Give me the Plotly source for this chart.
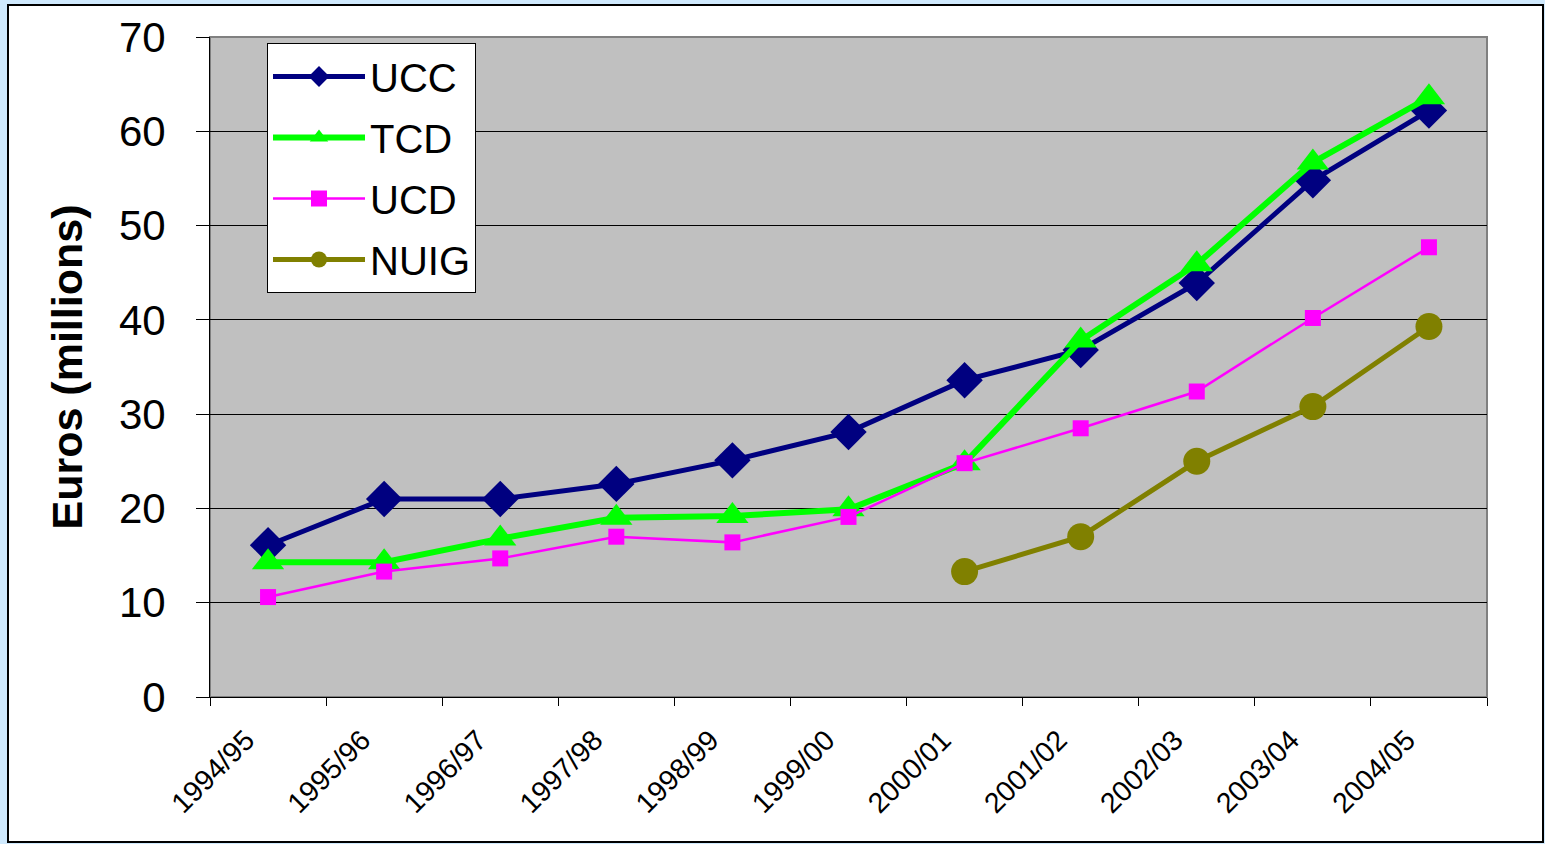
import plotly.graph_objects as go

years = ["1994/95", "1995/96", "1996/97", "1997/98", "1998/99", "1999/00",
         "2000/01", "2001/02", "2002/03", "2003/04", "2004/05"]
ucc = [16.1, 21.0, 21.0, 22.6, 25.1, 28.1, 33.6, 36.8, 43.9, 54.8, 62.2]
tcd = [14.3, 14.3, 16.8, 19.0, 19.2, 19.9, 24.8, 37.8, 45.9, 56.7, 63.6]
ucd = [10.6, 13.3, 14.7, 17.0, 16.4, 19.1, 24.8, 28.5, 32.4, 40.2, 47.7]
nuig = [None, None, None, None, None, None, 13.3, 17.0, 25.0, 30.8, 39.3]

FONT = "Liberation Sans, Arial, sans-serif"

fig = go.Figure()
fig.add_trace(go.Scatter(x=years, y=ucc, name="UCC", mode="lines+markers",
                         legendgroup="a",
                         line=dict(color="#000080", width=5),
                         marker=dict(symbol="diamond", size=28, color="#000080")))
fig.add_trace(go.Scatter(x=years, y=tcd, name="TCD", mode="lines+markers",
                         legendgroup="b",
                         line=dict(color="#00ff00", width=6),
                         marker=dict(symbol="triangle-up", size=28, color="#00ff00")))
fig.add_trace(go.Scatter(x=years, y=ucd, name="UCD", mode="lines+markers",
                         legendgroup="c",
                         line=dict(color="#ff00ff", width=2.5),
                         marker=dict(symbol="square", size=16, color="#ff00ff")))
fig.add_trace(go.Scatter(x=years, y=nuig, name="NUIG", mode="lines+markers",
                         legendgroup="d",
                         line=dict(color="#808000", width=5),
                         marker=dict(symbol="circle", size=27, color="#808000")))

L, R, T, B = 210, 58, 37, 147
W, H = 1545, 844
pw, ph = W - L - R, H - T - B

def px_x(p):
    return (p - L) / pw

def px_y(p):
    return (H - B - p) / ph

fig.update_layout(
    width=W, height=H,
    margin=dict(l=L, r=R, t=T, b=B, autoexpand=False),
    paper_bgcolor="#cfe9fd",
    plot_bgcolor="#c0c0c0",
    font=dict(family=FONT, color="black"),
    showlegend=True,
    legend=dict(x=px_x(267), y=px_y(43), xanchor="left", yanchor="top",
                bgcolor="white", bordercolor="black", borderwidth=1,
                font=dict(size=40, family=FONT), itemwidth=92,
                tracegroupgap=6),
    shapes=[
        dict(type="rect", xref="paper", yref="paper", layer="below",
             x0=px_x(8), x1=px_x(1543), y0=px_y(842), y1=px_y(5),
             fillcolor="white", line=dict(color="black", width=2)),
        dict(type="rect", xref="paper", yref="paper", layer="below",
             x0=0, x1=1, y0=0, y1=1,
             fillcolor="#c0c0c0", line=dict(color="#808080", width=2)),
    ],
)

fig.update_xaxes(
    type="category", tickson="boundaries", ticks="outside", ticklen=8,
    tickcolor="black", tickwidth=1, tickangle=-45,
    tickfont=dict(size=28.5, family=FONT),
    ticklabelstandoff=14, ticklabelshift=-22,
    showline=True, linecolor="black", linewidth=1,
    showgrid=False, range=[-0.5, 10.5],
)
fig.update_yaxes(
    range=[0, 70], dtick=10, tick0=0, ticks="outside", ticklen=13,
    tickcolor="black", tickwidth=1, tickfont=dict(size=42, family=FONT),
    ticklabelstandoff=22,
    showline=True, linecolor="black", linewidth=1,
    showgrid=True, gridcolor="black", gridwidth=1, zeroline=False,
    title=dict(text="<b>Euros (millions)</b>", font=dict(size=43, family=FONT),
               standoff=22),
)

fig.write_html("out.html", config={"displayModeBar": False},
               post_script="document.body.style.margin='0';document.body.style.overflow='hidden';")
